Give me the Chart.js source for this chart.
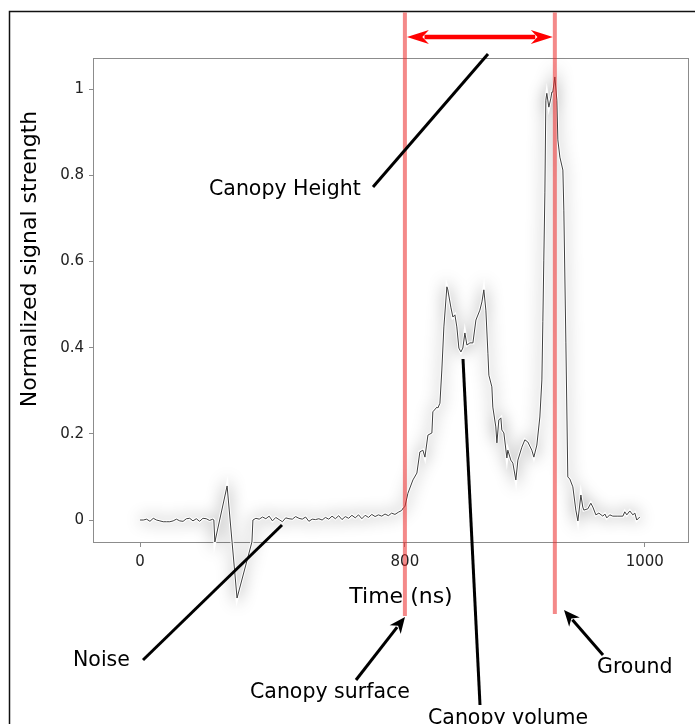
<!DOCTYPE html>
<html><head><meta charset="utf-8">
<script src="https://cdn.jsdelivr.net/npm/chart.js@4/dist/chart.umd.min.js"></script>
<style>html,body{margin:0;padding:0;background:#fff;overflow:hidden}canvas{display:block}</style>
</head><body>
<canvas id="c" width="695" height="724"></canvas>
<script>
// ---- data (time in ns, normalized signal) ----
const timeNs = [
  0,10,20,30,40,50,60,70,80,90,100,110,120,130,140,150,160,170,180,190,200,210,220,
  223,226,263,293,338,341,
  350,360,370,380,390,400,410,420,430,440,450,460,470,480,490,500,510,520,530,540,550,560,570,580,590,600,610,620,630,640,650,660,670,680,690,700,710,720,730,740,750,760,770,780,790,795,
  800,802.5,806.7,810,812.5,815,816.7,819.2,822.5,823.3,826.7,827.5,829.2,830.8,832.5,835,835.8,838.3,840,841.7,843.3,845,846.7,848.3,850,851.7,854.2,856.7,859.2,862.5,864.2,865.8,867.5,869.2,870,872.5,873.3,875.8,876.7,878.3,880,880.8,882.5,885,885.8,888.3,890,892.5,894.2,897.5,900,902.5,905.8,907.5,910,912.5,914.2,915,915.8,916.7,917.5,918.3,920,921.7,922.5,923.3,925,926.7,927.5,929.2,931.7,932.5,934.2,935.8,937.5,940,942.5,944.2,946.7,948.3,949.2,952.5,955,956.7,959.2,961.7,965,966.7,968.3,970.8,973.3,977.5,981.7,983.3,985,987.5,990,991.7,993.3,995.8
];
const signal = [
  0.000,0.000,0.002,-0.003,0.004,0.000,-0.002,-0.004,-0.004,-0.004,-0.002,0.002,-0.002,-0.003,0.003,0.004,-0.002,0.003,-0.003,0.004,0.003,-0.001,0.002,
  0.000,-0.051,0.079,-0.181,-0.051,0.000,
  0.004,0.002,0.007,0.003,0.009,-0.002,0.006,0.001,-0.004,0.005,0.003,0.002,0.008,0.004,0.002,0.007,-0.003,0.002,0.001,0.003,0.000,0.006,0.002,0.009,0.003,0.010,0.001,0.008,0.004,0.011,0.005,0.012,0.003,0.011,0.006,0.013,0.008,0.012,0.009,0.014,0.010,0.016,0.013,0.018,0.022,0.028,
  0.031,0.062,0.093,0.109,0.158,0.162,0.146,0.197,0.202,0.251,0.262,0.260,0.271,0.348,0.448,0.541,0.534,0.494,0.471,0.476,0.448,0.399,0.390,0.399,0.434,0.406,0.411,0.411,0.464,0.487,0.506,0.534,0.487,0.387,0.336,0.309,0.262,0.216,0.179,0.232,0.237,0.209,0.202,0.144,0.162,0.139,0.132,0.093,0.139,0.169,0.186,0.181,0.162,0.146,0.174,0.239,0.325,0.460,0.603,0.759,0.974,0.990,0.958,0.979,0.993,0.993,1.028,0.974,0.882,0.842,0.812,0.719,0.411,0.100,0.095,0.077,0.023,-0.002,0.058,0.030,0.023,0.026,0.039,0.030,0.012,0.016,0.009,0.014,0.005,0.012,0.009,0.009,0.009,0.019,0.012,0.021,0.012,0.016,0.000,0.007
];
const xTickNs = [0, 800, 1000];
const xTickLabels = ['0', '800', '1000'];
const yTickValues = [0, 0.2, 0.4, 0.6, 0.8, 1];
const yTickLabels = ['0', '0.2', '0.4', '0.6', '0.8', '1'];
const markerNs = [800, 925];           // canopy surface, ground
const xTitle = 'Time (ns)';
const yTitle = 'Normalized signal strength';
const labelHeight = 'Canopy Height';
const labelNoise = 'Noise';
const labelSurface = 'Canopy surface';
const labelVolume = 'Canopy volume';
const labelGround = 'Ground';

// The original axis is compressed before 800 ns
const BREAK_NS = 800, LEFT_COMPRESS = 0.276;
function warp(t) { return t >= BREAK_NS ? t : BREAK_NS - (BREAK_NS - t) * LEFT_COMPRESS; }

const FONT = 'DejaVu Sans';
const points = timeNs.map((t, i) => ({ x: warp(t), y: signal[i] }));

function arrow(ctx, x1, y1, x2, y2, len, half, width, color, both) {
  const a = Math.atan2(y2 - y1, x2 - x1), c = Math.cos(a), s = Math.sin(a);
  ctx.save();
  ctx.strokeStyle = color; ctx.fillStyle = color; ctx.lineWidth = width; ctx.lineCap = 'butt';
  const sx = both ? x1 + c * len * 0.8 : x1, sy = both ? y1 + s * len * 0.8 : y1;
  const ex = x2 - c * len * 0.8, ey = y2 - s * len * 0.8;
  ctx.beginPath(); ctx.moveTo(sx, sy); ctx.lineTo(ex, ey); ctx.stroke();
  const head = (tx, ty, dc, ds) => {
    ctx.beginPath();
    ctx.moveTo(tx, ty);
    ctx.lineTo(tx - dc * len - ds * half, ty - ds * len + dc * half);
    ctx.lineTo(tx - dc * len * 0.7, ty - ds * len * 0.7);
    ctx.lineTo(tx - dc * len + ds * half, ty - ds * len - dc * half);
    ctx.closePath(); ctx.fill();
  };
  head(x2, y2, c, s);
  if (both) head(x1, y1, -c, -s);
  ctx.restore();
}
function line(ctx, x1, y1, x2, y2, w) {
  ctx.save(); ctx.strokeStyle = '#000'; ctx.lineWidth = w; ctx.beginPath();
  ctx.moveTo(x1, y1); ctx.lineTo(x2, y2); ctx.stroke(); ctx.restore();
}

const decor = {
  id: 'decor',
  beforeDatasetsDraw(chart) {
    const { ctx, chartArea: a } = chart;
    ctx.save(); ctx.strokeStyle = '#8c8c8c'; ctx.lineWidth = 1;
    ctx.strokeRect(a.left + 0.5, a.top + 0.5, a.right - a.left, a.bottom - a.top);
    ctx.restore();
  },
  beforeDatasetDraw(chart, args) {
    const ctx = chart.ctx; ctx.save();
    if (args.index === 1) { ctx.shadowColor = 'rgba(0,0,0,0.42)'; ctx.shadowBlur = 16; }
  },
  afterDatasetDraw(chart) { chart.ctx.restore(); },
  afterDraw(chart) {
    const { ctx, scales: { x } } = chart;
    ctx.save();
    // figure frame
    ctx.strokeStyle = '#111'; ctx.lineWidth = 1.5;
    ctx.beginPath(); ctx.moveTo(9.5, 730); ctx.lineTo(9.5, 11.5); ctx.lineTo(695, 11.5); ctx.stroke();
    // red marker lines
    const mx = markerNs.map(t => x.getPixelForValue(warp(t)));
    ctx.strokeStyle = 'rgba(235,40,40,0.55)'; ctx.lineWidth = 4;
    ctx.beginPath(); ctx.moveTo(mx[0], 12.5); ctx.lineTo(mx[0], 616); ctx.stroke();
    ctx.beginPath(); ctx.moveTo(mx[1], 12.5); ctx.lineTo(mx[1], 614); ctx.stroke();
    ctx.restore();
    // canopy height arrow
    arrow(ctx, mx[0] + 2, 37, mx[1] - 2, 37, 22, 7, 4.5, '#ff0000', true);
    // pointer lines
    line(ctx, 373, 187, 488, 54, 3);
    line(ctx, 143, 660, 282, 525, 3);
    line(ctx, 463, 359, 480, 705, 3);
    arrow(ctx, 356, 680, 405, 617, 16, 7, 3, '#000', false);
    arrow(ctx, 603, 655, 564, 610, 16, 7, 3, '#000', false);
    // texts
    ctx.save();
    ctx.fillStyle = '#000'; ctx.textBaseline = 'middle'; ctx.textAlign = 'left';
    ctx.font = '20.5px "' + FONT + '"';
    ctx.fillText(labelHeight, 209, 190);
    ctx.fillText(labelNoise, 73, 661);
    ctx.fillText(labelSurface, 250, 693);
    ctx.fillText(labelVolume, 428, 719);
    ctx.fillText(labelGround, 597, 668);
    ctx.font = '22px "' + FONT + '"';
    ctx.textAlign = 'center';
    ctx.fillText(xTitle, 401, 597);
    ctx.translate(30, 259); ctx.rotate(-Math.PI / 2);
    ctx.fillText(yTitle, 0, 0);
    ctx.restore();
  }
};

new Chart(document.getElementById('c'), {
  type: 'line',
  data: { datasets: [
    { data: points, borderColor: '#404040', borderWidth: 1, pointRadius: 0,
      tension: 0, fill: false, clip: false, order: 1 },
    { data: points, borderColor: 'rgba(255,255,255,1)', borderWidth: 3, pointRadius: 0,
      tension: 0, fill: false, clip: false, order: 2 }
  ]},
  options: {
    responsive: false, animation: false, devicePixelRatio: 1,
    layout: { padding: { left: 13, right: 7, top: 58, bottom: 0 } },
    plugins: { legend: { display: false }, tooltip: { enabled: false } },
    scales: {
      x: {
        type: 'linear', min: 540, max: 1036,
        afterFit(s) { s.height = 182; },
        afterBuildTicks(s) { s.ticks = xTickNs.map(t => ({ value: warp(t) })); },
        ticks: { callback: (v, i) => xTickLabels[i], font: { family: FONT, size: 15 }, color: '#222', padding: 6, maxRotation: 0, autoSkip: false },
        grid: { drawOnChartArea: false, tickLength: 5, color: '#8c8c8c' },
        border: { color: '#8c8c8c' }
      },
      y: {
        min: -0.051, max: 1.072,
        afterFit(s) { s.width = 80; },
        afterBuildTicks(s) { s.ticks = yTickValues.map(v => ({ value: v })); },
        ticks: { callback: (v, i) => yTickLabels[i], font: { family: FONT, size: 15 }, color: '#222', padding: 5, autoSkip: false },
        grid: { drawOnChartArea: false, tickLength: 4, color: '#8c8c8c' },
        border: { color: '#8c8c8c' }
      }
    }
  },
  plugins: [decor]
});
</script>
</body></html>
